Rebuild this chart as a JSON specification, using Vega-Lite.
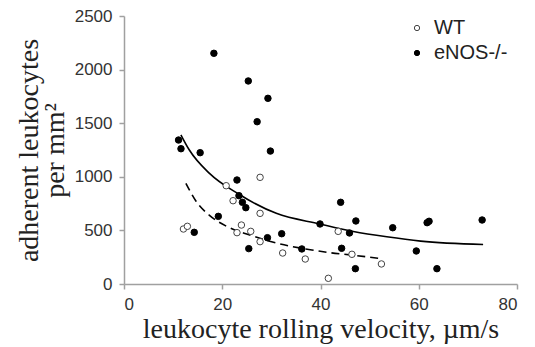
{
  "$schema": "https://vega.github.io/schema/vega-lite/v6.json",
  "width": 393,
  "height": 268,
  "autosize": {"type": "none"},
  "padding": {"left": 124, "top": 16, "right": 18, "bottom": 63},
  "background": "white",
  "config": {
    "view": {"stroke": null},
    "axis": {
      "grid": false,
      "domainColor": "#a0a0a0",
      "domainWidth": 1.5,
      "tickColor": "#a0a0a0",
      "tickWidth": 1.5,
      "tickSize": 5,
      "labelFont": "Liberation Sans",
      "labelFontSize": 17,
      "labelColor": "#333333",
      "titleFont": "Liberation Serif",
      "titleFontSize": 28,
      "titleFontWeight": "normal",
      "titleColor": "#222222"
    },
    "legend": {
      "labelFont": "Liberation Sans",
      "labelFontSize": 20,
      "labelColor": "#222222"
    }
  },
  "layer": [
    {
      "data": {"values": [
        {"v": 11.6, "a": 1390},
        {"v": 13.3, "a": 1250},
        {"v": 17.4, "a": 1032},
        {"v": 23.4, "a": 837},
        {"v": 31.0, "a": 659},
        {"v": 39.9, "a": 560},
        {"v": 46.7, "a": 490},
        {"v": 53.5, "a": 440},
        {"v": 60.4, "a": 400},
        {"v": 73.1, "a": 368}
      ]},
      "mark": {"type": "line", "color": "black", "strokeWidth": 1.6, "interpolate": "monotone"},
      "encoding": {
        "x": {"field": "v", "type": "quantitative"},
        "y": {"field": "a", "type": "quantitative"}
      }
    },
    {
      "data": {"values": [
        {"v": 12.6, "a": 939},
        {"v": 14.7, "a": 770},
        {"v": 17.4, "a": 640},
        {"v": 20.8, "a": 540},
        {"v": 25.6, "a": 457},
        {"v": 31.0, "a": 382},
        {"v": 37.9, "a": 320},
        {"v": 41.6, "a": 294},
        {"v": 46.7, "a": 268},
        {"v": 51.8, "a": 240}
      ]},
      "mark": {"type": "line", "color": "black", "strokeWidth": 1.6, "strokeDash": [8, 5], "interpolate": "monotone"},
      "encoding": {
        "x": {"field": "v", "type": "quantitative"},
        "y": {"field": "a", "type": "quantitative"}
      }
    },
    {
      "data": {"values": [
        {"group": "eNOS-/-", "v": 18.3, "a": 2152},
        {"group": "eNOS-/-", "v": 25.3, "a": 1894},
        {"group": "eNOS-/-", "v": 29.3, "a": 1732},
        {"group": "eNOS-/-", "v": 27.1, "a": 1514},
        {"group": "eNOS-/-", "v": 11.1, "a": 1343},
        {"group": "eNOS-/-", "v": 11.6, "a": 1262},
        {"group": "eNOS-/-", "v": 29.8, "a": 1240},
        {"group": "eNOS-/-", "v": 15.5, "a": 1225},
        {"group": "eNOS-/-", "v": 23.0, "a": 970},
        {"group": "eNOS-/-", "v": 23.4, "a": 824},
        {"group": "eNOS-/-", "v": 24.1, "a": 762},
        {"group": "eNOS-/-", "v": 24.8, "a": 712},
        {"group": "eNOS-/-", "v": 19.2, "a": 631},
        {"group": "eNOS-/-", "v": 14.3, "a": 482},
        {"group": "eNOS-/-", "v": 29.2, "a": 432},
        {"group": "eNOS-/-", "v": 32.1, "a": 469},
        {"group": "eNOS-/-", "v": 25.4, "a": 330},
        {"group": "eNOS-/-", "v": 36.2, "a": 327},
        {"group": "eNOS-/-", "v": 39.9, "a": 560},
        {"group": "eNOS-/-", "v": 44.1, "a": 762},
        {"group": "eNOS-/-", "v": 47.2, "a": 588},
        {"group": "eNOS-/-", "v": 45.9, "a": 476},
        {"group": "eNOS-/-", "v": 54.7, "a": 525},
        {"group": "eNOS-/-", "v": 61.7, "a": 572},
        {"group": "eNOS-/-", "v": 62.1, "a": 585},
        {"group": "eNOS-/-", "v": 72.9, "a": 597},
        {"group": "eNOS-/-", "v": 44.3, "a": 333},
        {"group": "eNOS-/-", "v": 47.1, "a": 143},
        {"group": "eNOS-/-", "v": 59.5, "a": 308},
        {"group": "eNOS-/-", "v": 63.7, "a": 143},
        {"group": "WT", "v": 27.7, "a": 995},
        {"group": "WT", "v": 20.8, "a": 917},
        {"group": "WT", "v": 22.2, "a": 777},
        {"group": "WT", "v": 27.7, "a": 659},
        {"group": "WT", "v": 23.9, "a": 550},
        {"group": "WT", "v": 12.1, "a": 513},
        {"group": "WT", "v": 12.9, "a": 538},
        {"group": "WT", "v": 23.0, "a": 479},
        {"group": "WT", "v": 25.8, "a": 491},
        {"group": "WT", "v": 27.7, "a": 395},
        {"group": "WT", "v": 32.3, "a": 289},
        {"group": "WT", "v": 36.9, "a": 233},
        {"group": "WT", "v": 41.6, "a": 53},
        {"group": "WT", "v": 43.6, "a": 491},
        {"group": "WT", "v": 46.4, "a": 277},
        {"group": "WT", "v": 52.4, "a": 187}
      ]},
      "mark": {"type": "point", "filled": true, "shape": "circle", "size": 42, "strokeWidth": 1, "opacity": 1},
      "encoding": {
        "x": {
          "field": "v", "type": "quantitative",
          "scale": {"domain": [0, 80], "nice": false},
          "axis": {"values": [0, 20, 40, 60, 80], "labelPadding": 7, "titlePadding": 3, "title": "leukocyte rolling velocity, µm/s"}
        },
        "y": {
          "field": "a", "type": "quantitative",
          "scale": {"domain": [0, 2500], "nice": false},
          "axis": {"values": [0, 500, 1000, 1500, 2000, 2500], "format": "d", "labelPadding": 7, "titlePadding": 5, "titleLineHeight": 26, "title": ["adherent leukocytes", "per mm²"]}
        },
        "fill": {
          "field": "group", "type": "nominal",
          "scale": {"domain": ["WT", "eNOS-/-"], "range": ["white", "black"]},
          "legend": {"title": null, "orient": "none", "legendX": 283, "legendY": 2, "symbolSize": 28, "symbolStrokeWidth": 1, "labelOffset": 7, "rowPadding": 5, "padding": 0, "symbolType": "circle"}
        },
        "stroke": {
          "field": "group", "type": "nominal",
          "scale": {"domain": ["WT", "eNOS-/-"], "range": ["#444444", "black"]},
          "legend": {"title": null, "orient": "none", "legendX": 283, "legendY": 2, "symbolSize": 28, "symbolStrokeWidth": 1, "labelOffset": 7, "rowPadding": 5, "padding": 0, "symbolType": "circle"}
        }
      }
    }
  ]
}
